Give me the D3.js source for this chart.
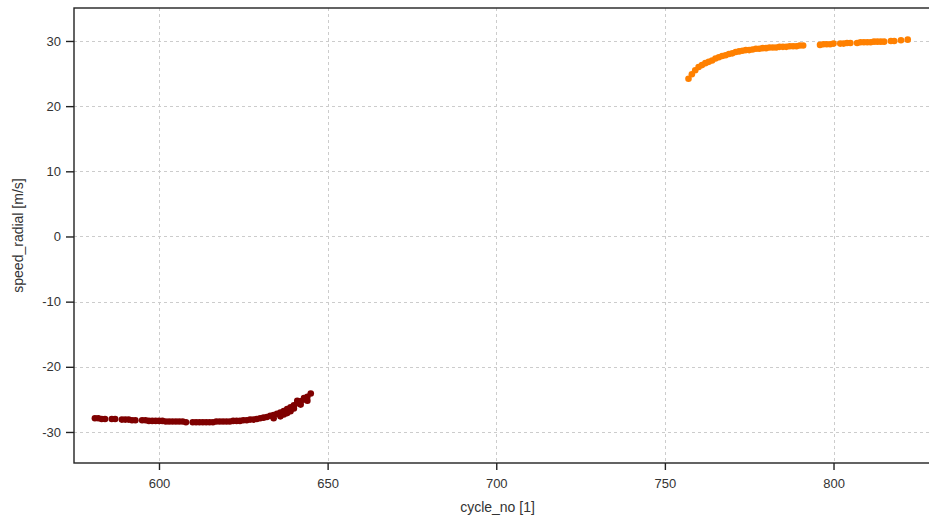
<!DOCTYPE html>
<html>
<head>
<meta charset="utf-8">
<script src="https://cdn.jsdelivr.net/npm/d3@7"></script>
<style>
  html, body { margin: 0; padding: 0; background: #fff; }
  svg { display: block; }
  text { font-family: "Liberation Sans", Arial, sans-serif; fill: #333; }
</style>
</head>
<body>
<svg id="chart" width="929" height="521"></svg>
<script>
// Radial speed per cycle, two profile segments
const descentCycles = [581,582,583,584,586,587,589,590,591,592,593,595,596,597,598,599,600,601,602,603,604,605,606,607,608,610,611,612,613,614,615,616,617,618,619,620,621,622,623,624,625,626,627,628,629,630,631,632,633,634,635,636,637,638,639,640,641,642,643,644,645];
const descentSpeed = [-27.9,-27.9,-28.0,-28.0,-28.0,-28.0,-28.1,-28.1,-28.1,-28.2,-28.2,-28.2,-28.2,-28.3,-28.3,-28.3,-28.3,-28.3,-28.4,-28.4,-28.4,-28.4,-28.4,-28.4,-28.5,-28.5,-28.5,-28.5,-28.5,-28.5,-28.5,-28.5,-28.4,-28.4,-28.4,-28.4,-28.4,-28.3,-28.3,-28.3,-28.2,-28.2,-28.1,-28.1,-28.0,-27.9,-27.8,-27.7,-27.5,-27.4,-27.2,-27.0,-26.8,-26.5,-26.2,-25.9,-25.6,-25.3,-25.0,-24.6,-24.1];
// additional samples that spread the end of the descent
const descentExtraCycles = [634,636,637,638,639,640,641,642,643,644];
const descentExtraSpeed = [-27.9,-27.6,-27.3,-27.1,-26.8,-26.4,-25.2,-25.8,-24.8,-25.2];

const ascentCycles = [757,758,759,760,761,762,763,764,765,766,767,768,769,770,771,772,773,774,775,776,777,778,779,780,781,782,783,784,785,786,787,788,789,790,791,796,797,798,799,800,802,803,804,805,807,808,809,810,811,812,813,814,815,817,818,820,822];
const ascentSpeed = [24.2,24.9,25.5,26.0,26.3,26.6,26.8,27.0,27.3,27.5,27.7,27.8,28.0,28.1,28.3,28.4,28.5,28.6,28.6,28.7,28.8,28.8,28.9,28.9,29.0,29.0,29.0,29.1,29.1,29.1,29.2,29.2,29.2,29.3,29.3,29.4,29.5,29.5,29.5,29.6,29.6,29.6,29.7,29.7,29.7,29.8,29.8,29.8,29.8,29.9,29.9,29.9,29.9,30.0,30.0,30.1,30.2];

const xTicks = [600, 650, 700, 750, 800];
const yTicks = [-30, -20, -10, 0, 10, 20, 30];

const svg = d3.select("#chart");
const plotLeft = 74, plotTop = 8, plotBottom = 463, plotRight = 932;

const x = d3.scaleLinear().domain([574.8, 829.2]).range([plotLeft, plotRight]);
const y = d3.scaleLinear().domain([-34.76, 35.06]).range([plotBottom, plotTop]);

// grid
const grid = svg.append("g").attr("stroke", "#cccccc").attr("stroke-width", 1).attr("stroke-dasharray", "3,3");
xTicks.forEach(t => grid.append("line")
  .attr("x1", Math.round(x(t)) + 0.5).attr("x2", Math.round(x(t)) + 0.5)
  .attr("y1", plotTop).attr("y2", plotBottom));
yTicks.forEach(t => grid.append("line")
  .attr("x1", plotLeft).attr("x2", plotRight)
  .attr("y1", Math.round(y(t)) + 0.5).attr("y2", Math.round(y(t)) + 0.5));

// points
function drawSeries(cs, vs, color) {
  svg.append("g").selectAll("circle")
    .data(cs.map((c, i) => [c, vs[i]]))
    .join("circle")
    .attr("cx", d => x(d[0]))
    .attr("cy", d => y(d[1]))
    .attr("r", 3.3)
    .attr("fill", color);
}
drawSeries(descentCycles, descentSpeed, "#7f0000");
drawSeries(descentExtraCycles, descentExtraSpeed, "#7f0000");
drawSeries(ascentCycles, ascentSpeed, "#ff8000");

// frame
svg.append("rect")
  .attr("x", plotLeft).attr("y", plotTop)
  .attr("width", plotRight - plotLeft).attr("height", plotBottom - plotTop)
  .attr("fill", "none").attr("stroke", "#222").attr("stroke-width", 1.4);

// axes (plain hyphen for negative labels)
const plainInt = d => String(d);
const xAxis = svg.append("g").attr("transform", `translate(0,${plotBottom})`)
  .call(d3.axisBottom(x).tickValues(xTicks).tickSize(7).tickPadding(9).tickFormat(plainInt));
const yAxis = svg.append("g").attr("transform", `translate(${plotLeft},0)`)
  .call(d3.axisLeft(y).tickValues(yTicks).tickSize(8).tickPadding(5).tickFormat(plainInt));
[xAxis, yAxis].forEach(a => {
  a.select(".domain").remove();
  a.selectAll(".tick line").attr("stroke", "#222").attr("stroke-width", 1.4);
  a.selectAll(".tick text").attr("font-size", 13).attr("fill", "#333")
    .attr("font-family", "'Liberation Sans', Arial, sans-serif");
});

// axis titles
svg.append("text")
  .attr("x", (plotLeft + 929) / 2 - 4).attr("y", 512)
  .attr("text-anchor", "middle").attr("font-size", 14)
  .text("cycle_no [1]");
svg.append("text")
  .attr("transform", `translate(23,${(plotTop + plotBottom) / 2}) rotate(-90)`)
  .attr("text-anchor", "middle").attr("font-size", 14)
  .text("speed_radial [m/s]");
</script>
</body>
</html>
